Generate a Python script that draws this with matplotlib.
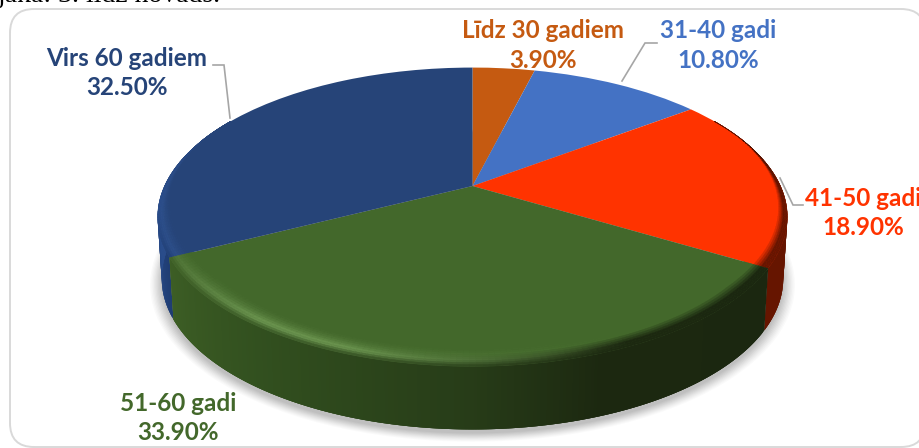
import numpy as np
import matplotlib
matplotlib.use("Agg")
import matplotlib.pyplot as plt
from matplotlib.collections import PolyCollection
from matplotlib.colors import to_rgb
from matplotlib.patches import Circle, FancyBboxPatch
from matplotlib.transforms import Transform

categories = ["Līdz 30 gadiem", "31-40 gadi", "41-50 gadi", "51-60 gadi", "Virs 60 gadiem"]
shares = [3.9, 10.8, 18.9, 33.9, 32.5]
slice_colors = ["#C55A11", "#4472C4", "#FF3300", "#43682B", "#264478"]

CX, CY = 472.5, 186.0
KX, AY, CP = 308.0, 143.0, 0.2075


def project(u, v, sink=0.0, extra=0.0):
    den = 1 + CP * v
    x = CX + KX * u / den * (1 - 0.013 * sink)
    y = CY - AY * v / den + sink * (61 + 2 * np.clip(-v, 0, 1)) + extra
    return x, y


class Perspective(Transform):
    input_dims = output_dims = 2

    def __init__(self, sink=0.0, extra=0.0):
        super().__init__()
        self.sink, self.extra = sink, extra

    def transform_non_affine(self, values):
        p = np.asarray(values, float)
        return np.column_stack(project(p[:, 0], p[:, 1], self.sink, self.extra))


def mix(a, b, t):
    return np.asarray(a) * (1 - t) + np.asarray(b) * t


def ramp(theta, stops):
    th, cols = zip(*stops)
    rgb = np.array([to_rgb(c) for c in cols])
    return np.array([np.interp(theta, th, rgb[:, i]) for i in range(3)]).T


fig = plt.figure(figsize=(9.2, 4.48), dpi=100)
ax = fig.add_axes([0, 0, 1, 1])
wedges, _ = ax.pie(shares, colors=slice_colors, startangle=90, counterclock=False, frame=True,
                   wedgeprops={"linewidth": 0, "zorder": 5})
ax.set_aspect("auto")
ax.set_xlim(0, 920)
ax.set_ylim(448, 0)
ax.axis("off")

top = Perspective()
for w in wedges:
    w.set_transform(top + ax.transData)

# card frame
ax.add_patch(FancyBboxPatch((10, 9), 915, 438, boxstyle="round,pad=0,rounding_size=24",
                            fc="white", ec="#d9d9d9", lw=1.4, zorder=0))

# soft shadow under the disc
for r, a in zip(np.linspace(1.036, 1.0, 10), [0.018, 0.02, 0.022, 0.024, 0.026, 0.028, 0.03, 0.03, 0.03, 0.03]):
    ax.add_patch(Circle((0, 0), r, fc="black", ec="none", alpha=a, zorder=1,
                        transform=Perspective(1.0, 4.0) + ax.transData))

edges = np.concatenate([[0], np.cumsum(shares)]) / np.sum(shares) * 360

side_stops = {
    2: [(60, "#4a0f00"), (100, "#661500"), (121, "#661500")],
    3: [(121, "#1b2710"), (160, "#1c2810"), (180, "#273c18"), (215, "#32501f"), (243, "#3d5e25")],
    4: [(243, "#1f3d73"), (262, "#2a4d8c"), (300, "#264478")],
}

# extruded side: overlapping strips, painted in order so no seams show
for i in (4, 2, 3):
    a0, a1 = edges[i], edges[i + 1]
    if i == 4:
        a1 = 300.0
    if i == 2:
        a0 = 60.0
    th = np.linspace(a0, a1, int((a1 - a0) * 2) + 2)
    rad = np.radians(th)
    xt, yt = project(np.sin(rad), np.cos(rad))
    xb, yb = project(np.sin(rad), np.cos(rad), 1.0)
    quads = []
    for k in range(len(th) - 1):
        e = min(k + 3, len(th) - 1)
        quads.append(np.column_stack([np.r_[xt[k:e + 1], xb[k:e + 1][::-1]],
                                      np.r_[yt[k:e + 1], yb[k:e + 1][::-1]]]))
    cols = ramp(th[:-1], side_stops[i])
    ax.add_collection(PolyCollection(quads, facecolors=cols, edgecolors="none", zorder=3))

# bevel along the rim of the top face
highlight = {4: ("#3f69b5", 0.30), 2: ("#FF3300", 0.0), 3: ("#9ac97a", 0.50)}
for i, span in ((4, (243, 300)), (2, (60, 121)), (3, (121, 243))):
    a0 = max(edges[i], span[0])
    a1 = min(edges[i + 1], span[1])
    base = np.array(to_rgb(slice_colors[i]))
    th = np.linspace(a0, a1, int(a1 - a0) + 2)
    quads, cols = [], []
    for k in range(len(th) - 1):
        tm = 0.5 * (th[k] + th[k + 1])
        t0, t1 = np.radians(th[k]), np.radians(th[k + 1])
        w = np.clip(0.35 - np.cos(np.radians(tm)), 0, 1)
        r0 = 1 - 0.085 * w
        rr = np.linspace(r0, 1.0, 11)
        side = ramp(tm, side_stops[i]).ravel()
        if i == 3:
            light = np.clip((tm - 155) / 45, 0, 1) * np.clip((262 - tm) / 45, 0.25, 1)
        elif i == 4:
            light = np.clip((300 - tm) / 40, 0, 1)
        else:
            light = 0.0
        hi_col, hi_amt = highlight[i]
        peak = mix(base, to_rgb(hi_col), hi_amt)
        for j in range(len(rr) - 1):
            t = (j + 0.5) / (len(rr) - 1)
            lit = mix(base, peak, (t / 0.7) ** 2) if t < 0.7 else mix(peak, mix(peak, side, 0.9), (t - 0.7) / 0.3)
            dark = mix(base, side, np.clip((t - 0.35) / 0.4, 0, 1))
            c = mix(dark, lit, light)
            quads.append([(rr[j] * np.sin(t0), rr[j] * np.cos(t0)), (rr[j] * np.sin(t1), rr[j] * np.cos(t1)),
                          (rr[j + 1] * np.sin(t1), rr[j + 1] * np.cos(t1)), (rr[j + 1] * np.sin(t0), rr[j + 1] * np.cos(t0))])
            cols.append(c)
    cols = np.array(cols)
    ax.add_collection(PolyCollection(quads, facecolors=cols, edgecolors=cols, linewidths=0.3, zorder=6,
                                     transform=top + ax.transData))

# leader lines
for xs, ys in (([213, 224, 230], [65, 65, 118]),
               ([657, 645, 622], [43, 43, 81]),
               ([780, 793, 803], [178, 205, 205])):
    ax.plot(xs, ys, color="#a6a6a6", lw=1.2, zorder=7, solid_joinstyle="miter")

# labels
label_xy = [(543, 45.5), (718, 45.5), (863, 213), (178, 418), (127, 73)]
for name, val, col, (x, y) in zip(categories, shares, slice_colors, label_xy):
    ax.text(x, y, f"{name}\n{val:.2f}%", color=col, ha="center", va="center", family="Lato",
            fontweight="bold", fontsize=17.5, linespacing=1.34, zorder=8)

# clipped line of body text above the chart
ax.text(-2, 2.5, "jākā: 3. līdz novads.", family="Liberation Serif", fontsize=20, color="black",
        ha="left", va="baseline", zorder=8, clip_on=True)

fig.savefig("out.png", dpi=100)
